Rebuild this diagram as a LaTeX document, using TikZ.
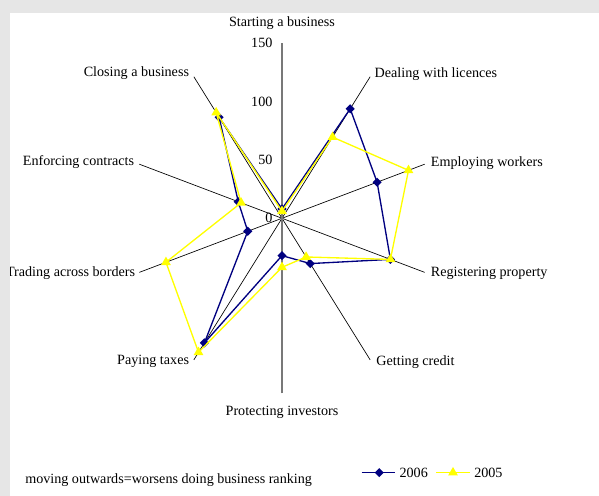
\documentclass[tikz,border=0pt]{standalone}
\usepackage{fontspec}
\setmainfont{Liberation Serif}
\usetikzlibrary{positioning,shapes.geometric}
\definecolor{navyclr}{RGB}{0,0,128}
\definecolor{yelclr}{RGB}{255,255,0}
\definecolor{axisclr}{RGB}{120,120,120}
\definecolor{bandclr}{RGB}{230,230,230}
\tikzset{
  spoke/.style={draw=black,line width=0.5pt},
  vaxis/.style={draw=axisclr,line width=0.8pt},
  lbl/.style={inner sep=0pt,font=\fontsize{10.6}{12}\selectfont},
  numlbl/.style={lbl,anchor=east,xshift=-7pt},
  ser06/.style={draw=navyclr,line width=1pt,line join=round},
  ser05/.style={draw=yelclr,line width=1pt,line join=round},
  mk06/.style={diamond,fill=navyclr,inner sep=0pt,minimum size=7pt},
  mk05/.style={regular polygon,regular polygon sides=3,fill=yelclr,
               inner sep=0pt,minimum size=8.5pt},
}

\begin{document}
\begin{tikzpicture}[x=0.75pt, y=0.875pt]

\useasboundingbox (-282,-238) rectangle (317,187.1);
\fill[white] (-282,-238) rectangle (317,187.1);

% ── axes
\coordinate (c)   at (0,0);
\coordinate (a1)  at (90:150);
\coordinate (a2)  at (54:150);
\coordinate (a3)  at (18:150);
\coordinate (a4)  at (-18:150);
\coordinate (a5)  at (-54:150);
\coordinate (a6)  at (-90:150);
\coordinate (a7)  at (-126:150);
\coordinate (a8)  at (-162:150);
\coordinate (a9)  at (162:150);
\coordinate (a10) at (126:150);
\draw[spoke] (c) -- (a2);
\draw[spoke] (c) -- (a3);
\draw[spoke] (c) -- (a4);
\draw[spoke] (c) -- (a5);
\draw[spoke] (c) -- (a7);
\draw[spoke] (c) -- (a8);
\draw[spoke] (c) -- (a9);
\draw[spoke] (c) -- (a10);
\draw[vaxis] (a6) -- (a1);

\node[numlbl] (n150) at (0,150) {150};
\node[numlbl] (n100) at (0,100) {100};
\node[numlbl] (n50)  at (0,50)  {50};
\node[numlbl] (n0)   at (0,0)   {0};

% ── category labels
\node[lbl,yshift=15pt]                  (lst) at (a1)  {Starting a business};
\node[lbl,anchor=west,xshift=3.2pt,yshift=2pt]    (ldl) at (a2)  {Dealing with licences};
\node[lbl,anchor=west,xshift=4.5pt,yshift=1.1pt]  (lem) at (a3)  {Employing workers};
\node[lbl,anchor=west,xshift=4.5pt,yshift=-0.7pt] (lrg) at (a4)  {Registering property};
\node[lbl,anchor=west,xshift=4.5pt,yshift=-1.4pt] (lcr) at (a5)  {Getting credit};
\node[lbl,yshift=-14.5pt]                 (lpi) at (a6)  {Protecting investors};
\node[lbl,anchor=east,xshift=-3.4pt,yshift=-0.8pt] (ltx) at (a7) {Paying taxes};
\node[lbl,anchor=east,xshift=-3pt,yshift=-0.7pt]   (ltb) at (a8) {Trading across borders};
\node[lbl,anchor=east,xshift=-3.8pt,yshift=1.4pt]  (lec) at (a9) {Enforcing contracts};
\node[lbl,anchor=east,xshift=-3.4pt,yshift=3pt]    (lcb) at (a10) {Closing a business};

% ── 2006 series
\coordinate (st6) at (90:8);
\coordinate (dl6) at (54:116);
\coordinate (em6) at (18:100);
\coordinate (rg6) at (-18:114);
\coordinate (cr6) at (-54:48);
\coordinate (pi6) at (-90:32);
\coordinate (tx6) at (-126:132);
\coordinate (tb6) at (-162:36);
\coordinate (ec6) at (162:46);
\coordinate (cb6) at (126:107);
\draw[ser06] (st6) -- (dl6) -- (em6) -- (rg6) -- (cr6) -- (pi6) -- (tx6) -- (tb6) -- (ec6) -- (cb6) -- cycle;
\node[mk06] (mst6) at (st6) {};
\node[mk06] (mdl6) at (dl6) {};
\node[mk06] (mem6) at (em6) {};
\node[mk06] (mrg6) at (rg6) {};
\node[mk06] (mcr6) at (cr6) {};
\node[mk06] (mpi6) at (pi6) {};
\node[mk06] (mtx6) at (tx6) {};
\node[mk06] (mtb6) at (tb6) {};
\node[mk06] (mec6) at (ec6) {};
\node[mk06] (mcb6) at (cb6) {};

% ── 2005 series
\coordinate (st5) at (90:6);
\coordinate (dl5) at (54:86);
\coordinate (em5) at (18:133);
\coordinate (rg5) at (-18:114);
\coordinate (cr5) at (-54:41);
\coordinate (pi5) at (-90:42);
\coordinate (tx5) at (-126:142);
\coordinate (tb5) at (-162:122);
\coordinate (ec5) at (162:43);
\coordinate (cb5) at (126:112);
\draw[ser05] (st5) -- (dl5) -- (em5) -- (rg5) -- (cr5) -- (pi5) -- (tx5) -- (tb5) -- (ec5) -- (cb5) -- cycle;
\node[mk05] (mst5) at (st5) {};
\node[mk05] (mdl5) at (dl5) {};
\node[mk05] (mem5) at (em5) {};
\node[mk05] (mrg5) at (rg5) {};
\node[mk05] (mcr5) at (cr5) {};
\node[mk05] (mpi5) at (pi5) {};
\node[mk05] (mtx5) at (tx5) {};
\node[mk05] (mtb5) at (tb5) {};
\node[mk05] (mec5) at (ec5) {};
\node[mk05] (mcb5) at (cb5) {};

% ── legend and note
\coordinate (lg6a) at (79.7,-218);
\coordinate (lg6b) at (113,-218);
\draw[ser06] (lg6a) -- (lg6b);
\node[mk06] (lgm6) at (97.3,-218) {};
\node[lbl,anchor=west] (lgt6) at (117.3,-218) {2006};
\coordinate (lg5a) at (154,-218);
\coordinate (lg5b) at (188,-218);
\draw[ser05] (lg5a) -- (lg5b);
\node[mk05] (lgm5) at (171,-218) {};
\node[lbl,anchor=west] (lgt5) at (192,-218) {2005};
\node[lbl,anchor=west] (note) at (-257,-224.3) {moving outwards=worsens doing business ranking};

% ── frame bands
\fill[bandclr] (-282,175.7) rectangle (317,187.1);
\fill[bandclr] (-282,-238) rectangle (-271.5,187.1);

\end{tikzpicture}
\end{document}
